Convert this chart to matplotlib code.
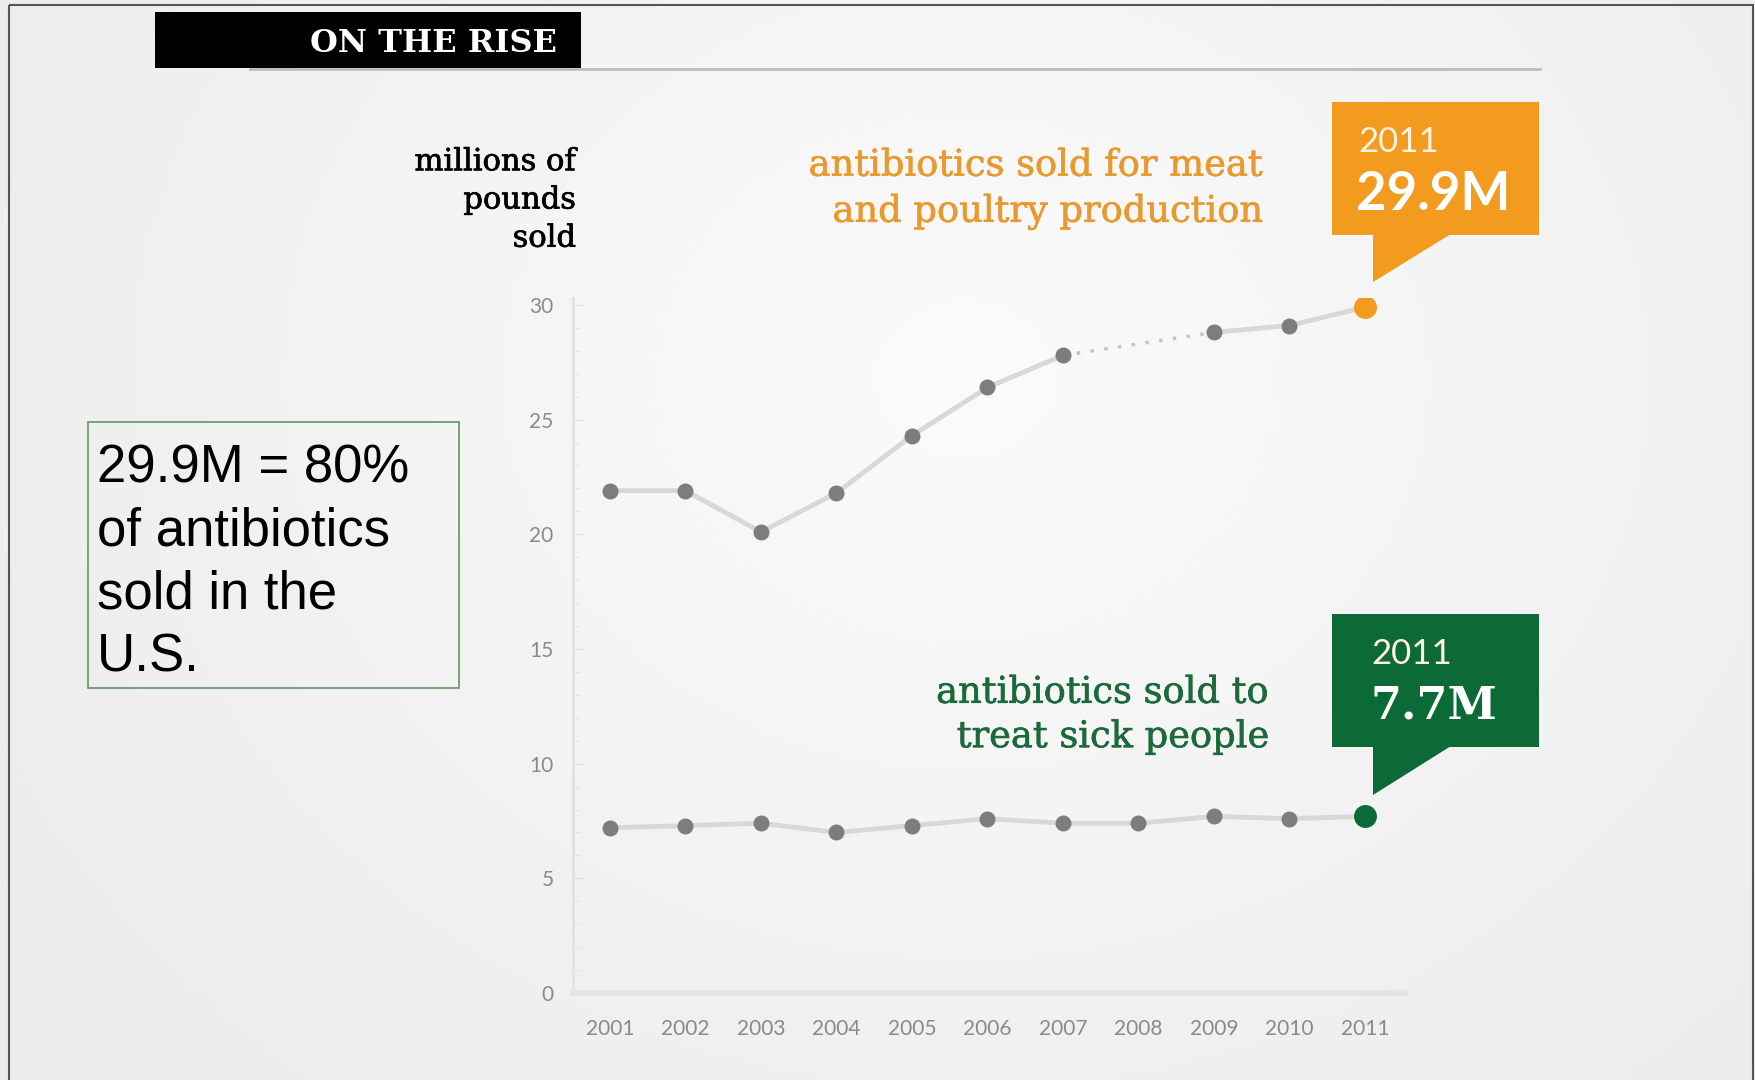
import matplotlib
matplotlib.use("Agg")
import matplotlib.pyplot as plt
import matplotlib.patheffects as pe
import numpy as np
from matplotlib.patches import Rectangle, Polygon
from matplotlib.transforms import Affine2D
from matplotlib.ticker import MultipleLocator

# ---------------- data ----------------
years = [2001, 2002, 2003, 2004, 2005, 2006, 2007, 2008, 2009, 2010, 2011]
meat_poultry = [21.9, 21.9, 20.1, 21.8, 24.3, 26.4, 27.8, np.nan, 28.8, 29.1, 29.9]
human_use = [7.2, 7.3, 7.4, 7.0, 7.3, 7.6, 7.4, 7.4, 7.7, 7.6, 7.7]
y_ticks = [0, 5, 10, 15, 20, 25, 30]
title = "ON THE RISE"
y_label = "millions of\npounds\nsold"
meat_label = "antibiotics sold for meat\nand poultry production"
human_label = "antibiotics sold to\ntreat sick people"
meat_callout = ("2011", "29.9M")
human_callout = ("2011", "7.7M")
note = "29.9M = 80%\nof antibiotics\nsold in the\nU.S."

ORANGE = "#f29b1f"
ORANGE_TXT = "#e99a2e"
GREEN = "#0b6a35"
GREEN_TXT = "#1c6a3b"
LINE = "#d8d8d8"
DOT = "#7d7d7d"

W, H = 1756, 1080
fig = plt.figure(figsize=(W / 100, H / 100), dpi=100)
pxT = Affine2D().scale(1 / W, -1 / H).translate(0, 1) + fig.transFigure

def thick(color, w=0.45):
    return [pe.withStroke(linewidth=w, foreground=color)]

# background with soft gradient
bg = fig.add_axes([0, 0, 1, 1], zorder=-10)
gx = np.linspace(0, 1, 400)
gy = np.linspace(0, 1, 250)
GX, GY = np.meshgrid(gx, gy)
d = np.sqrt(((GX - 0.55) / 0.65) ** 2 + ((GY - 0.35) / 0.9) ** 2)
val = 0.985 - 0.06 * np.clip(d, 0, 1)
bg.imshow(np.dstack([val, val, val]), extent=[0, 1, 0, 1], aspect="auto", origin="upper")
bg.set_axis_off()

# outer frame
fig.patches.append(Rectangle((9, 5), 1744, 1200, transform=pxT, fill=False,
                             edgecolor="#555555", lw=1.5, zorder=5))

# title bar
fig.lines.append(plt.Line2D([250, 1540], [69, 69], transform=pxT, color="#bdbdbd", lw=2))
fig.patches.append(Rectangle((155, 12), 426, 56, transform=pxT, facecolor="black",
                             edgecolor="none", zorder=3))
fig.text(557, 43, title, transform=pxT, ha="right", va="center", color="white",
         fontsize=23, fontweight="bold", family="DejaVu Serif", zorder=4)

# ---------------- main axes ----------------
ax = fig.add_axes([573 / W, 1 - 993 / H, (1405 - 573) / W, (993 - 298) / H])
ax.set_facecolor("none")
ax.set_xlim(2000.51, 2011.53)
ax.set_ylim(0, 30.3)

yrs = np.array(years, dtype=float)
mp = np.array(meat_poultry, dtype=float)
hu = np.array(human_use, dtype=float)

ax.plot(yrs, mp, color=LINE, lw=3.5, zorder=2, solid_capstyle="round")
# dotted bridge over missing year(s)
for i in range(1, len(mp) - 1):
    if np.isnan(mp[i]) and not np.isnan(mp[i - 1]) and not np.isnan(mp[i + 1]):
        ax.plot([yrs[i - 1], yrs[i + 1]], [mp[i - 1], mp[i + 1]], color="#c4c4c4",
                lw=2.5, ls=(0, (1, 3)), zorder=2)
ax.plot(yrs[:-1], mp[:-1], ls="none", marker="o", ms=11.5, color=DOT, mec="none", zorder=3)
ax.plot(yrs[-1:], mp[-1:], ls="none", marker="o", ms=16.5, color=ORANGE, mec="none", zorder=4)

ax.plot(yrs, hu, color=LINE, lw=3.5, zorder=2)
ax.plot(yrs[:-1], hu[:-1], ls="none", marker="o", ms=11.5, color=DOT, mec="none", zorder=3)
ax.plot(yrs[-1:], hu[-1:], ls="none", marker="o", ms=16.5, color=GREEN, mec="none", zorder=4)

for s in ["top", "right"]:
    ax.spines[s].set_visible(False)
ax.spines["left"].set_color("#e2e2e2")
ax.spines["left"].set_linewidth(2)
ax.spines["bottom"].set_color("#e4e4e4")
ax.spines["bottom"].set_linewidth(4)

ax.set_yticks(y_ticks)
ax.set_yticklabels([str(t) for t in y_ticks])
ax.yaxis.set_minor_locator(MultipleLocator(1))
ax.set_xticks(years)
ax.set_xticklabels([str(y) for y in years])
ax.tick_params(axis="y", which="major", direction="in", length=7, color="#dddddd",
               labelsize=15, labelcolor="#8a8a8a", pad=14)
ax.tick_params(axis="y", which="minor", direction="in", length=5, color="#e2e2e2")
ax.tick_params(axis="x", length=0, labelsize=15, labelcolor="#8a8a8a", pad=19)
for lab in ax.get_xticklabels() + ax.get_yticklabels():
    lab.set_family("Lato")

# y label
fig.text(576, 200, y_label, transform=pxT, ha="right", va="center", ma="right",
         fontsize=22, family="DejaVu Serif", color="black", linespacing=1.3,
         path_effects=thick("black", 0.5))

# series labels
fig.text(1263, 189, meat_label, transform=pxT, ha="right", va="center", ma="right",
         fontsize=26.5, family="DejaVu Serif", color=ORANGE_TXT, linespacing=1.36,
         path_effects=thick(ORANGE_TXT))
fig.text(1269, 715, human_label, transform=pxT, ha="right", va="center", ma="right",
         fontsize=26.5, family="DejaVu Serif", color=GREEN_TXT, linespacing=1.3,
         path_effects=thick(GREEN_TXT))

# callouts
def callout(x0, y0, w, h, tail_x, tail_w, tail_tip_y, color, top, big, top_x, big_x,
            big_family, big_size):
    fig.patches.append(Rectangle((x0, y0), w, h, transform=pxT, facecolor=color,
                                 edgecolor="none", zorder=3))
    fig.patches.append(Polygon([(tail_x, y0 + h - 1), (tail_x + tail_w, y0 + h - 1),
                                (tail_x, tail_tip_y)], closed=True, transform=pxT,
                               facecolor=color, edgecolor="none", zorder=3))
    fig.text(top_x, y0 + 40, top, transform=pxT, ha="left", va="center",
             color="#fff3e0", fontsize=25, family="Lato", fontweight="normal", zorder=4)
    fig.text(big_x, y0 + 92, big, transform=pxT, ha="left", va="center",
             color="white", fontsize=big_size, family=big_family, fontweight="bold", zorder=4)

callout(1332, 102, 207, 133, 1373, 78, 282, ORANGE, meat_callout[0], meat_callout[1],
        1358, 1356, "Lato", 38)
callout(1332, 614, 207, 133, 1373, 78, 795, GREEN, human_callout[0], human_callout[1],
        1371, 1371, "DejaVu Serif", 32)

# note box
fig.patches.append(Rectangle((88, 422), 371, 266, transform=pxT, fill=False,
                             edgecolor="#6a9f6a", lw=1.3, zorder=3))
fig.text(97, 563, note, transform=pxT, ha="left", va="center", ma="left",
         fontsize=38, family="Liberation Sans", color="black", linespacing=1.33, zorder=4)

fig.savefig("out.png", dpi=100)
